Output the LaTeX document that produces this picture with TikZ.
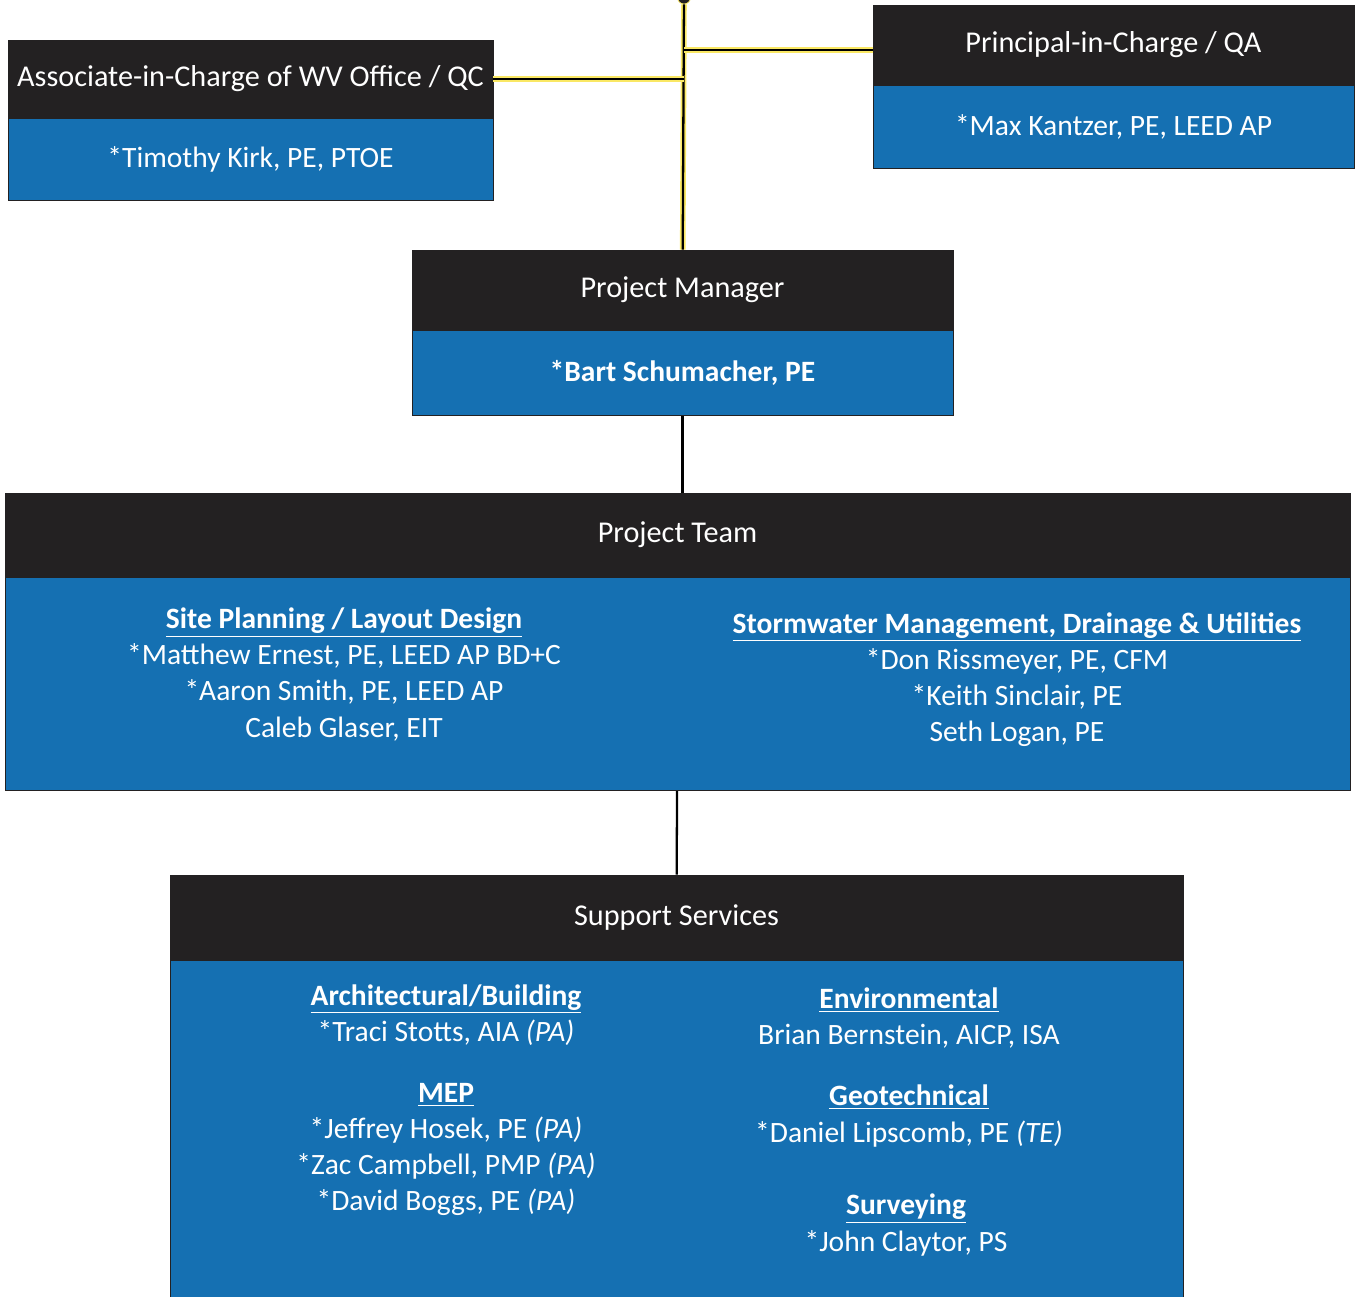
\documentclass[tikz,border=0pt]{standalone}
\usepackage{fontspec}
\setmainfont{Carlito}
\usetikzlibrary{positioning}
\definecolor{headdark}{RGB}{35,33,34}
\definecolor{bodyblue}{RGB}{21,112,178}
\definecolor{linkglow}{RGB}{250,232,100}

\begin{document}
\begin{tikzpicture}[
    every node/.style={font=\fontsize{16.8}{20.5}\selectfont, text=white},
    head/.style={rectangle, draw=headdark, fill=headdark, inner sep=0pt, font=\fontsize{17.2}{20.5}\selectfont},
    body/.style={rectangle, draw=headdark, fill=bodyblue, inner sep=0pt},
    group/.style={align=center, inner sep=0pt},
    link/.style={line width=1.3pt, black},
    glow/.style={link, preaction={draw=linkglow, line width=3.2pt}}
]
\useasboundingbox (0,0) rectangle (27.12,-25.94);

\node[circle, fill=headdark, draw=linkglow, minimum size=0.26cm, inner sep=0pt] (top) at (13.68,0.05) {};

\node[head, minimum width=9.7cm, minimum height=1.56cm] (assochead) at (5.01,-1.58) {Associate-in-Charge of WV Office / QC};
\node[body, minimum width=9.7cm, minimum height=1.64cm, below=0cm of assochead] (assocbody) {*Timothy Kirk, PE, PTOE};

\node[head, minimum width=9.62cm, minimum height=1.6cm] (princhead) at (22.27,-0.9) {Principal-in-Charge / QA};
\node[body, minimum width=9.62cm, minimum height=1.66cm, below=0cm of princhead] (princbody) {*Max Kantzer, PE, LEED AP};

\node[head, minimum width=10.82cm, minimum height=1.6cm] (pmhead) at (13.65,-5.8) {Project Manager};
\node[body, minimum width=10.82cm, minimum height=1.7cm, below=0cm of pmhead] (pmbody) {\textbf{*Bart Schumacher, PE}};

\node[head, minimum width=26.9cm, minimum height=1.68cm] (teamhead) at (13.55,-10.7) {Project Team};
\node[body, minimum width=26.9cm, minimum height=4.26cm, below=0cm of teamhead] (teambody) {};

\node[head, minimum width=20.26cm, minimum height=1.7cm] (supphead) at (13.53,-18.35) {Support Services};
\node[body, minimum width=20.26cm, minimum height=6.8cm, below=0cm of supphead] (suppbody) {};

% connectors
\draw[glow] (top) -- (pmhead);
\draw[glow] (assochead.east) -- (assochead.east -| top);
\draw[glow] ([yshift=-0.1cm]princhead.west) -- ([yshift=-0.1cm]princhead.west -| top);
\draw[link] (pmbody.south) -- (pmbody.south |- teamhead.north);
\draw[link] (teambody) -- (supphead);

% project team
\node[group] (site) at (6.88,-13.49) {\underline{\textbf{Site Planning / Layout Design}}\\
    *Matthew Ernest, PE, LEED AP BD+C\\
    *Aaron Smith, PE, LEED AP\\
    Caleb Glaser, EIT};
\node[group] (storm) at (20.34,-13.59) {\underline{\textbf{Stormwater Management, Drainage \& Utilities}}\\
    *Don Rissmeyer, PE, CFM\\
    *Keith Sinclair, PE\\
    Seth Logan, PE};

% support services
\node[group] (arch) at (8.92,-20.3) {\underline{\textbf{Architectural/Building}}\\
    *Traci Stotts, AIA \textit{(PA)}};
\node[group] (mep) at (8.92,-22.99) {\underline{\textbf{MEP}}\\
    *Jeffrey Hosek, PE \textit{(PA)}\\
    *Zac Campbell, PMP \textit{(PA)}\\
    *David Boggs, PE \textit{(PA)}};
\node[group] (env) at (18.18,-20.36) {\underline{\textbf{Environmental}}\\
    Brian Bernstein, AICP, ISA};
\node[group] (geo) at (18.18,-22.32) {\underline{\textbf{Geotechnical}}\\
    *Daniel Lipscomb, PE \textit{(TE)}};
\node[group] (surv) at (18.12,-24.5) {\underline{\textbf{Surveying}}\\
    *John Claytor, PS};

\end{tikzpicture}
\end{document}
